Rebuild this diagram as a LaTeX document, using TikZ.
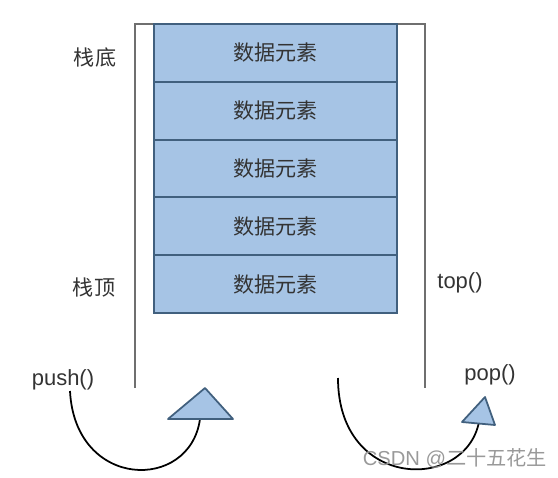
\documentclass[tikz,border=0pt]{standalone}
\usepackage{fontspec}
\setmainfont{Liberation Sans}
\newfontfamily\cjk{Noto Sans CJK SC}
\usepackage{tikz}
\usetikzlibrary{positioning}
\definecolor{cellfill}{HTML}{A6C4E5}
\definecolor{cellline}{HTML}{41607E}
\definecolor{wallgray}{HTML}{6F6F6F}
\definecolor{txtgray}{HTML}{333333}
\tikzset{
  cell/.style={draw=cellline,line width=1.2pt,fill=cellfill,minimum width=4.86cm,
    minimum height=1.156cm,inner sep=0pt,font=\cjk\fontsize{12}{14}\selectfont,text=txtgray},
  lbl/.style={font=\fontsize{12.5}{14}\selectfont,text=txtgray,inner sep=1pt},
  wall/.style={wallgray,line width=1.1pt},
  swing/.style={black,line width=1pt},
  tip/.style={draw=cellline,fill=cellfill,line width=1pt,line join=round}
}
\begin{document}
\begin{tikzpicture}[x=0.02cm,y=-0.02cm]
    \useasboundingbox (0,0) rectangle (558,477);
    % the stack walls
    \draw[wall] (135,388)--(135,24)--(425,24)--(425,388);
    % five elements
    \foreach \i in {0,...,4}
      \node[cell] (c\i) at (275.5,{52.9+57.8*\i}) {数据元素};
    \node[lbl,font=\cjk\fontsize{12}{14}\selectfont] (bottom) at (95,57) {栈底};
    \node[lbl,font=\cjk\fontsize{12}{14}\selectfont] (topl) at (94,288) {栈顶};
    \node[lbl] (topf) at (460,283) {top()};
    \node[lbl] (push) at (63,380) {push()};
    \node[lbl] (pop) at (490,375) {pop()};
    % push arrow
    \coordinate (pushstart) at (70,391);
    \coordinate (pushend) at (200,419);
    \draw[swing] (pushstart) .. controls (75,490) and (190,492) .. (pushend);
    \draw[tip] (205,388)--(233,419)--(168,419)--cycle;
    % pop arrow
    \coordinate (popstart) at (338,378);
    \coordinate (popend) at (479,422);
    \draw[swing] (popstart) .. controls (338,490) and (465,492) .. (popend);
    \draw[tip] (485,397)--(495,425)--(462,422)--cycle;
    \node[font=\fontsize{11.5}{13}\selectfont,text=gray!80] (mark) at (455,458) {CSDN @{\cjk 二十五花生}};
\end{tikzpicture}
\end{document}
